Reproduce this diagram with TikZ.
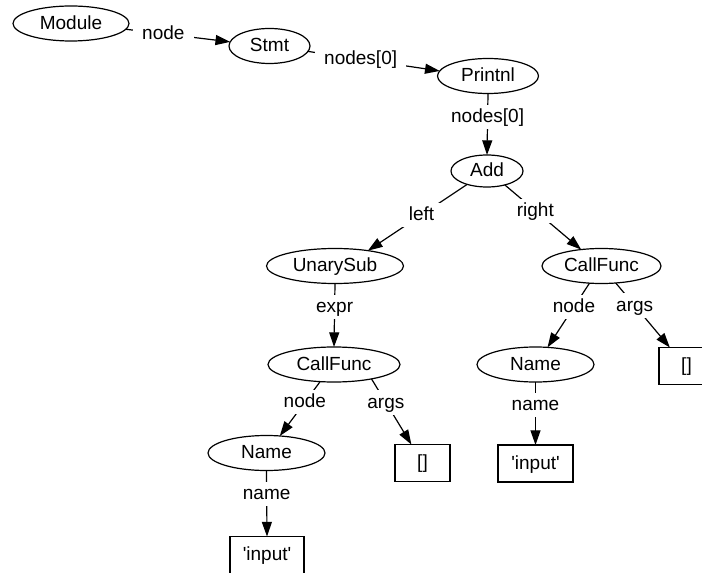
\documentclass[tikz,border=0pt]{standalone}
\usepackage{tikz,xcolor}
\usepackage{fontspec}
\setmainfont{Liberation Sans}
\usetikzlibrary{shapes,shapes.geometric,arrows.meta}

\begin{document}
\begin{tikzpicture}[x=0.75pt, y=-0.75pt, line width=0.9pt,
		font=\fontsize{14.25}{17}\selectfont,
		>={Triangle[length=11pt, width=7.5pt]},
		base/.style = {draw=black, inner sep=0pt, outer sep=0pt, minimum height=26.25pt, text height=11.4pt, text depth=2.85pt, align=center} , 
		oval/.style = {ellipse, base},
		box/.style = {rectangle, base, minimum height=27.75pt},
		lbl/.style = {fill=white, inner xsep=7pt, inner ysep=2pt, text height=11.4pt, text depth=2.85pt}
		]
		\useasboundingbox (0,0) rectangle (702,573);
		\clip (0,0) rectangle (702,573);
		\node (A) [oval, minimum width=87pt] at (71,23.5) {Module};
		\node (B) [oval, minimum width=60.75pt] at (269.5,46) {Stmt};
		\node (C) [oval, minimum width=75.75pt] at (488,76) {Printnl};
		\node (D) [oval, minimum width=54pt, minimum height=24pt] at (487,171) {Add};
		\node (E) [oval, minimum width=102.75pt] at (335,266) {UnarySub};
		\node (F) [oval, minimum width=99pt] at (334,364.5) {CallFunc};
		\node (G) [oval, minimum width=89.25pt] at (601.5,266) {CallFunc};
		\node (H) [oval, minimum width=87.75pt] at (266.5,453) {Name};
		\node (I) [oval, minimum width=87.75pt] at (535.5,364.5) {Name};
		\node (J) [box, minimum width=41.25pt] at (422.5,463) {[]};
		\node (K) [box, minimum width=55.5pt] at (267,555) {\textquotesingle input\textquotesingle};
		\node (L) [box, minimum width=56.25pt] at (535.5,463.5) {\textquotesingle input\textquotesingle};
		\node (M) [box, minimum width=41.25pt] at (686.5,366) {[]};
		
		\draw[->] (A.-6.3) -- node[lbl, pos=0.36] {node} (B.174.4);
		\draw[->] (B.-8) -- node[lbl, pos=0.4] {nodes[0]} (C.174.3);
		\draw[->] (C.south) -- node[lbl, pos=0.38] {nodes[0]} (D.north);
		\draw[->] (D.-146.9) -- node[lbl, pos=0.46] {left} (E.25.9);
		\draw[->] (D.-38.3) -- node[lbl, pos=0.4] {right} (G.141.3);
		\draw[->] (E.south) -- node[lbl, pos=0.37] {expr} (F.north);
		\draw[->] (F.-129.3) -- node[lbl, pos=0.38] {node} (H.52.6);
		\draw[->] (F.-21.4) -- node[lbl, pos=0.36] {args} (J.121.2);
		\draw[->] (H.south) -- node[lbl, pos=0.36] {name} (K.north);
		\draw[->] (G.-125.4) -- node[lbl, pos=0.37] {node} (I.55.9);
		\draw[->] (G.-50.8) -- node[lbl, pos=0.35] {args} (M.132.5);
		\draw[->] (I.south) -- node[lbl, pos=0.36] {name} (L.north);
	\end{tikzpicture}
\end{document}
